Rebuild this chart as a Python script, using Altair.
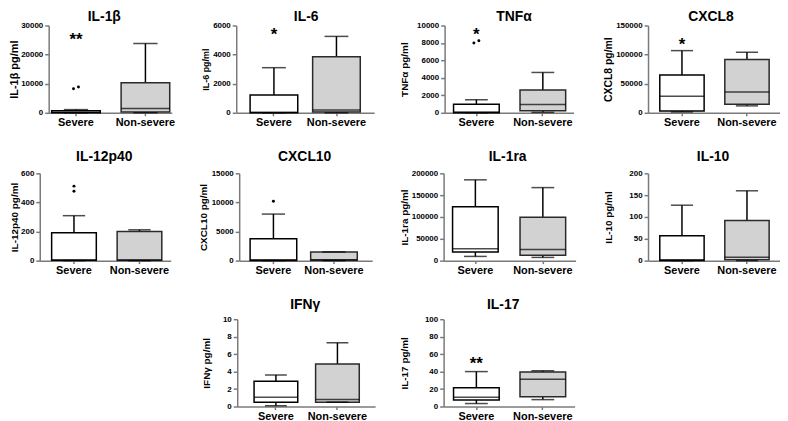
import altair as alt
import pandas as pd

FONT = "Liberation Sans"

groups = ["Severe", "Non-severe"]
cytokines = ["IL-1β", "IL-6", "TNFα", "CXCL8", "IL-12p40", "CXCL10", "IL-1ra", "IL-10", "IFNγ", "IL-17"]
y_titles = [c + " pg/ml" for c in cytokines]
y_max = [30000, 6000, 10000, 150000, 600, 15000, 200000, 200, 10, 100]
y_step = [10000, 2000, 2000, 50000, 200, 5000, 50000, 50, 2, 20]

# box-plot statistics (whisker low, Q1, median, Q3, whisker high)
sev_min = [0, 0, 0, 1500, 0, 0, 9700, 0, 0.1, 3.4]
sev_q1 = [50, 5, 10, 3000, 2, 20, 20000, 0.5, 0.5, 7.5]
sev_med = [200, 30, 80, 28400, 5, 150, 27500, 2, 1.05, 10.6]
sev_q3 = [700, 1230, 985, 65000, 191, 3780, 123400, 57, 2.9, 21.5]
sev_max = [1100, 3100, 1500, 106800, 309, 8000, 185100, 127, 3.6, 40]

non_min = [50, 0, 50, 11900, 0, 0, 7400, 0, 0.5, 7.9]
non_q1 = [240, 50, 230, 14800, 2, 50, 12600, 2, 0.5, 11.3]
non_med = [1480, 200, 950, 35800, 5, 150, 25300, 8, 0.8, 31.3]
non_q3 = [10300, 3850, 2610, 91500, 200, 1470, 99600, 92, 4.87, 39.6]
non_max = [23800, 5250, 4620, 104000, 212, 1500, 167300, 160, 7.3, 41]

# outliers (all in the Severe group)
out_panel = [0, 0, 2, 2, 4, 4, 5]
out_value = [8300, 8900, 8000, 8250, 477, 512, 10200]

# significance marks (above the Severe group)
star_panel = [0, 1, 2, 3, 9]
star_text = ["**", "*", "*", "*", "**"]
star_value = [26250, 5640, 9320, 122700, 52.8]

# ---------------- layout / style (not data) ----------------
rows = [[0, 1, 2, 3], [4, 5, 6, 7], [8, 9]]
left = [49, 238, 448, 653, 40, 241, 447, 653, 239, 447]
widths = [124, 139, 130, 133, 132, 134, 133, 133, 139, 132]
pad_inner = [0.3, 0.238, 0.313, 0.318, 0.318, 0.23, 0.324, 0.318, 0.29, 0.313]
pad_outer = [0.036, 0.222, 0.127, 0.174, 0.159, 0.213, 0.14, 0.174, 0.266, 0.142]
band_align = [0.6, 0.5, 0.53, 0.52, 0.571, 0.423, 0.474, 0.52, 0.515, 0.526]
ytitle_x = [-34, -31, -40, -40, -25, -36, -39, -40, -31, -39]
ytitle_fs = [11, 9, 10, 10.5, 10, 10, 10, 10, 10, 10]
title_dx = [-6, 1, 5, -3, -1, -1, -2, -1, -1, -6]
row_title_y = [-5, -12, -10]
row_spacing = 23
jitter = {0: 5, 2: 5}
H = 88
AXIS_GRAY = "#7a7a7a"


def spacer(w):
    return (
        alt.Chart(pd.DataFrame({"v": [0]}))
        .mark_point(size=1, opacity=0)
        .encode(x=alt.value(w / 2), y=alt.value(0))
        .properties(width=w, height=1)
    )


def panel(i, row_idx):
    W = widths[i]
    pI, pO, al = pad_inner[i], pad_outer[i], band_align[i]
    step = W / (2 - pI + 2 * pO)
    bw = step * (1 - pI)

    df = pd.DataFrame({
        "group": groups,
        "lo": [sev_min[i], non_min[i]],
        "q1": [sev_q1[i], non_q1[i]],
        "med": [sev_med[i], non_med[i]],
        "q3": [sev_q3[i], non_q3[i]],
        "hi": [sev_max[i], non_max[i]],
    })

    xs = alt.Scale(domain=groups, paddingInner=pI, paddingOuter=pO, align=al)
    xaxis = alt.Axis(
        labelAngle=0, ticks=True, tickSize=3, tickWidth=1.5, tickColor=AXIS_GRAY,
        labelPadding=1, labelFontSize=11, labelFontWeight="bold", labelColor="black",
        labelFont=FONT, domainColor=AXIS_GRAY, domainWidth=1.5, title=None,
    )
    x = alt.X("group:N", scale=xs, sort=groups, axis=xaxis, title=None)

    ys = alt.Scale(domain=[0, y_max[i]], nice=False, zero=True)
    yaxis = alt.Axis(
        values=list(range(0, y_max[i] + 1, y_step[i])), format="d",
        title=y_titles[i], titleX=ytitle_x[i], titleBaseline="middle",
        titleFontSize=ytitle_fs[i], titleFontWeight="bold", titleFont=FONT, titleColor="black",
        labelFontSize=8, labelFontWeight="bold", labelFont=FONT, labelColor="black",
        labelPadding=2, tickSize=4, tickWidth=1.5, tickColor=AXIS_GRAY,
        domainColor=AXIS_GRAY, domainWidth=1.5, grid=False,
    )

    def Y(f):
        return alt.Y(f + ":Q", scale=ys, axis=yaxis, title=y_titles[i])

    base = alt.Chart(df)
    whisk = base.mark_rule(color="black", strokeWidth=1.5).encode(x=x, y=Y("lo"), y2="hi:Q")
    box = base.mark_bar(strokeWidth=1.5).encode(
        x=x, y=Y("q1"), y2="q3:Q",
        fill=alt.Fill("group:N", scale=alt.Scale(domain=groups, range=["white", "#d2d2d2"]), legend=None),
        stroke=alt.Stroke("group:N", scale=alt.Scale(domain=groups, range=["black", "#2a2a2a"]), legend=None),
    )
    med = base.mark_tick(thickness=1.5, size=bw, color="black", orient="horizontal").encode(x=x, y=Y("med"))
    cap_hi = base.mark_tick(thickness=1.5, size=bw * 0.5, color="black", orient="horizontal").encode(x=x, y=Y("hi"))
    cap_lo = base.mark_tick(thickness=1.5, size=bw * 0.5, color="black", orient="horizontal").encode(x=x, y=Y("lo"))
    layers = [whisk, box, med, cap_hi, cap_lo]

    outs = [v for p, v in zip(out_panel, out_value) if p == i]
    for k, v in enumerate(outs):
        off = (k - 0.5) * jitter.get(i, 0) if len(outs) > 1 else 0
        odf = pd.DataFrame({"group": ["Severe"], "v": [v]})
        layers.append(
            alt.Chart(odf).mark_circle(size=9, color="black", opacity=1, xOffset=off).encode(x=x, y=Y("v"))
        )

    for p, t, v in zip(star_panel, star_text, star_value):
        if p == i:
            sdf = pd.DataFrame({"group": ["Severe"], "v": [v], "t": [t]})
            layers.append(
                alt.Chart(sdf).mark_text(fontSize=17, fontWeight="bold", font=FONT, baseline="alphabetic",
                                         dy=9, color="black").encode(x=x, y=Y("v"), text="t:N")
            )

    # panel heading
    tdf = pd.DataFrame({"name": [cytokines[i]]})
    layers.append(
        alt.Chart(tdf).mark_text(fontSize=14, fontWeight="bold", font=FONT, color="black",
                                 align="center", baseline="alphabetic")
        .encode(x=alt.value(W / 2 + title_dx[i]), y=alt.value(row_title_y[row_idx]), text="name:N")
    )

    return alt.layer(*layers).properties(width=W, height=H)


row_charts = []
for r, idxs in enumerate(rows):
    items = []
    cursor = 8
    for i in idxs:
        items.append(spacer(left[i] - cursor))
        items.append(panel(i, r))
        cursor = left[i] + widths[i]
    row_charts.append(alt.hconcat(*items, spacing=0, bounds="flush"))

chart = (
    alt.vconcat(*row_charts, spacing=row_spacing)
    .properties(padding=0)
    .configure(font=FONT, background="white")
    .configure_view(strokeWidth=0, stroke=None)
)

chart.save("out.html", embed_options={"renderer": "svg", "actions": False})
